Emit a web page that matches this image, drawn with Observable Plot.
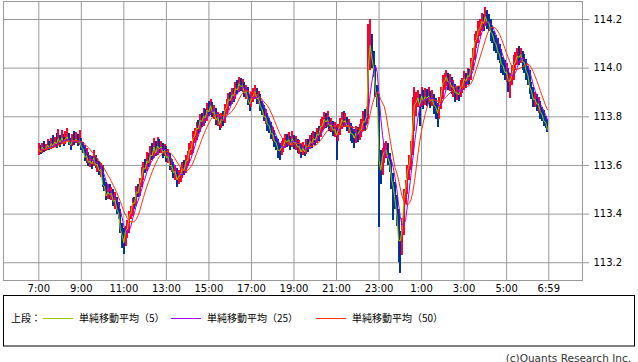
<!DOCTYPE html>
<html><head><meta charset="utf-8">
<script src="https://cdn.jsdelivr.net/npm/d3@7"></script>
<script src="https://cdn.jsdelivr.net/npm/@observablehq/plot@0.6"></script>
<style>
body{margin:0;background:#fff;width:638px;height:362px;position:relative;overflow:hidden;font-family:"DejaVu Sans",sans-serif}
#chart{position:absolute;left:0;top:0}
#legend{position:absolute;left:0;top:0}
</style></head>
<body>
<div id="chart"></div>
<svg id="legend" width="638" height="362"></svg>
<script>
// 5-minute bars from 7:00 to 6:55 (USD/JPY)
const barMinutes = 5;
const firstOpen = 113.660;
const closes = [
113.668,113.655,113.676,113.664,113.672,113.684,113.668,113.690,113.679,113.697,
113.688,113.710,113.692,113.714,113.694,113.708,113.718,113.696,113.684,113.705,
113.697,113.708,113.694,113.700,113.676,113.668,113.632,113.640,113.612,113.618,
113.606,113.630,113.601,113.604,113.578,113.583,113.522,113.515,113.474,113.490,
113.480,113.486,113.452,113.458,113.420,113.404,113.338,113.312,113.282,113.334,
113.338,113.396,113.404,113.446,113.444,113.492,113.486,113.525,113.548,113.590,
113.585,113.618,113.610,113.642,113.640,113.676,113.650,113.680,113.668,113.676,
113.652,113.662,113.632,113.636,113.598,113.600,113.570,113.575,113.540,113.556,
113.560,113.590,113.578,113.618,113.620,113.664,113.666,113.712,113.720,113.754,
113.750,113.786,113.778,113.802,113.796,113.828,113.820,113.846,113.816,113.822,
113.786,113.798,113.768,113.790,113.784,113.826,113.840,113.872,113.866,113.890,
113.886,113.916,113.910,113.936,113.924,113.928,113.898,113.904,113.870,113.852,
113.876,113.886,113.904,113.874,113.878,113.842,113.832,113.800,113.800,113.768,
113.764,113.730,113.730,113.698,113.694,113.662,113.660,113.674,113.680,113.702,
113.696,113.706,113.684,113.710,113.692,113.694,113.676,113.678,113.655,113.672,
113.656,113.680,113.676,113.698,113.692,113.710,113.704,113.728,113.724,113.760,
113.762,113.790,113.778,113.788,113.762,113.766,113.744,113.750,113.724,113.746,
113.762,113.788,113.778,113.784,113.762,113.762,113.732,113.730,113.712,113.734,
113.726,113.742,113.746,113.780,113.778,113.804,114.011,114.093,114.040,113.998,
113.906,113.874,113.620,113.580,113.638,113.656,113.664,113.630,113.610,113.546,
113.512,113.458,113.400,113.292,113.290,113.335,113.462,113.506,113.574,113.604,
113.660,113.758,113.848,113.860,113.878,113.844,113.886,113.864,113.882,113.876,
113.886,113.864,113.874,113.848,113.840,113.816,113.848,113.886,113.940,113.946,
113.964,113.942,113.944,113.922,113.922,113.898,113.898,113.890,113.922,113.926,
113.956,113.946,113.968,113.966,114.014,114.048,114.110,114.118,114.154,114.164,
114.192,114.184,114.212,114.188,114.186,114.148,114.140,114.110,114.100,114.066,
114.058,114.016,114.010,113.982,113.984,113.946,113.948,113.972,114.014,114.026,
114.050,114.044,114.056,114.026,114.024,113.988,113.972,113.922,113.906,113.872,
113.872,113.852,113.852,113.820,113.810,113.782,113.778,113.748];
const highs = [
113.690,113.682,113.692,113.698,113.688,113.705,113.700,113.712,113.725,113.716,
113.730,113.748,113.722,113.742,113.728,113.738,113.752,113.730,113.712,113.728,
113.740,113.736,113.728,113.745,113.712,113.694,113.680,113.668,113.652,113.640,
113.636,113.662,113.642,113.628,113.618,113.606,113.598,113.548,113.530,113.520,
113.522,113.510,113.500,113.488,113.470,113.446,113.418,113.360,113.340,113.350,
113.372,113.410,113.430,113.466,113.470,113.512,113.520,113.548,113.590,113.612,
113.626,113.652,113.648,113.676,113.690,113.712,113.700,113.716,113.708,113.700,
113.690,113.686,113.676,113.664,113.648,113.626,113.612,113.598,113.586,113.580,
113.590,113.612,113.620,113.640,113.656,113.690,113.700,113.740,113.752,113.778,
113.786,113.808,113.812,113.836,113.830,113.856,113.862,113.872,113.858,113.846,
113.836,113.818,113.810,113.812,113.820,113.850,113.870,113.896,113.900,113.916,
113.918,113.942,113.948,113.962,113.956,113.952,113.940,113.930,113.920,113.886,
113.900,113.918,113.930,113.916,113.904,113.890,113.862,113.846,113.828,113.812,
113.792,113.776,113.758,113.744,113.718,113.706,113.690,113.700,113.710,113.728,
113.726,113.734,113.720,113.738,113.722,113.720,113.708,113.702,113.690,113.696,
113.684,113.706,113.708,113.722,113.730,113.740,113.734,113.752,113.760,113.790,
113.796,113.816,113.812,113.820,113.798,113.792,113.780,113.778,113.764,113.770,
113.792,113.818,113.822,113.812,113.798,113.790,113.772,113.762,113.748,113.760,
113.758,113.770,113.790,113.820,113.830,113.840,114.180,114.200,114.140,114.070,
114.010,113.930,113.890,113.660,113.670,113.690,113.700,113.690,113.650,113.620,
113.566,113.530,113.478,113.420,113.330,113.380,113.500,113.540,113.600,113.640,
113.700,113.880,113.920,113.900,113.910,113.892,113.920,113.910,113.916,113.912,
113.920,113.906,113.910,113.892,113.874,113.854,113.880,113.920,113.968,113.980,
113.990,113.978,113.972,113.962,113.950,113.934,113.924,113.926,113.950,113.956,
113.986,113.980,113.998,113.996,114.040,114.080,114.140,114.150,114.190,114.200,
114.226,114.220,114.250,114.238,114.220,114.200,114.172,114.150,114.136,114.120,
114.096,114.076,114.042,114.030,114.020,114.000,113.980,114.010,114.050,114.066,
114.080,114.090,114.080,114.070,114.056,114.036,114.006,113.990,113.940,113.920,
113.898,113.890,113.880,113.862,113.840,113.826,113.800,113.790];
const lows = [
113.640,113.645,113.650,113.652,113.656,113.662,113.660,113.664,113.668,113.672,
113.670,113.680,113.674,113.686,113.676,113.688,113.700,113.680,113.662,113.676,
113.684,113.690,113.676,113.682,113.660,113.650,113.618,113.610,113.596,113.590,
113.584,113.596,113.586,113.570,113.560,113.552,113.508,113.494,113.456,113.462,
113.460,113.456,113.432,113.420,113.400,113.376,113.320,113.260,113.232,113.266,
113.300,113.320,113.376,113.390,113.420,113.430,113.470,113.474,113.510,113.540,
113.566,113.576,113.590,113.600,113.622,113.630,113.636,113.640,113.648,113.648,
113.630,113.636,113.614,113.606,113.580,113.570,113.548,113.540,113.510,113.520,
113.530,113.548,113.560,113.566,113.596,113.608,113.640,113.650,113.690,113.704,
113.726,113.736,113.756,113.760,113.772,113.780,113.800,113.806,113.796,113.790,
113.766,113.760,113.742,113.752,113.760,113.772,113.810,113.826,113.842,113.852,
113.860,113.870,113.890,113.900,113.902,113.900,113.878,113.870,113.846,113.820,
113.840,113.860,113.870,113.852,113.850,113.820,113.806,113.780,113.770,113.740,
113.730,113.706,113.700,113.672,113.660,113.630,113.620,113.640,113.652,113.668,
113.672,113.676,113.660,113.672,113.664,113.660,113.650,113.646,113.630,113.640,
113.636,113.644,113.654,113.664,113.670,113.680,113.682,113.690,113.700,113.716,
113.738,113.746,113.752,113.758,113.740,113.736,113.718,113.716,113.620,113.700,
113.724,113.748,113.754,113.756,113.740,113.730,113.700,113.690,113.670,113.690,
113.696,113.702,113.714,113.740,113.740,113.770,113.790,113.990,114.000,113.960,
113.880,113.840,113.345,113.520,113.560,113.610,113.630,113.600,113.570,113.500,
113.375,113.420,113.350,113.200,113.155,113.230,113.310,113.440,113.480,113.540,
113.580,113.640,113.740,113.800,113.840,113.760,113.840,113.830,113.846,113.842,
113.850,113.836,113.842,113.810,113.790,113.756,113.790,113.830,113.870,113.910,
113.926,113.910,113.906,113.892,113.880,113.860,113.866,113.862,113.880,113.894,
113.910,113.916,113.930,113.934,113.950,113.990,114.030,114.080,114.100,114.130,
114.150,114.150,114.170,114.160,114.150,114.110,114.100,114.070,114.060,114.030,
114.020,113.980,113.970,113.950,113.940,113.900,113.875,113.930,113.950,113.990,
114.010,114.010,114.020,113.990,113.980,113.950,113.930,113.890,113.870,113.840,
113.840,113.820,113.814,113.790,113.780,113.760,113.750,113.735];

const tickMinutes = [0,120,240,360,480,600,720,840,960,1080,1200,1320,1439];
const tickLabels = ["7:00","9:00","11:00","13:00","15:00","17:00","19:00","21:00","23:00","1:00","3:00","5:00","6:59"];
const yTicks = [113.2,113.4,113.6,113.8,114.0,114.2];

const maPeriods = [5,25,50];            // in minutes (1-minute SMA periods)
const maNames = ["単純移動平均（5）","単純移動平均（25）","単純移動平均（50）"];
const maColors = ["#99cc00","#9900ff","#ff3300"];
const upColor = "#ff0033", downColor = "#003399";

const bars = closes.map((c, i) => ({
  t: i * barMinutes,
  open: i === 0 ? firstOpen : closes[i - 1],
  close: c, high: highs[i], low: lows[i]
}));
bars.forEach(b => b.col = b.close >= b.open ? upColor : downColor);

const maSeries = maPeriods.map((p, j) => {
  const k = Math.max(1, Math.round(p / barMinutes));
  return closes.map((_, i) => ({
    t: i * barMinutes,
    v: d3.mean(closes.slice(Math.max(0, i - k + 1), i + 1))
  }));
});

const chart = Plot.plot({
  width: 638, height: 294,
  marginLeft: 3, marginRight: 56, marginTop: 1, marginBottom: 14,
  style: {fontFamily: "DejaVu Sans", fontSize: "10px", background: "#fff", color: "#000"},
  x: {type: "linear", domain: [-99.6, 1534.1]},
  y: {domain: [113.127, 114.274]},
  marks: [
    Plot.ruleY(yTicks, {stroke: "#999", strokeOpacity: 1}),
    Plot.ruleX(tickMinutes, {stroke: "#999", strokeOpacity: 1}),
    Plot.frame({stroke: "#999"}),
    Plot.ruleX(bars, {x: "t", y1: "low", y2: "high", stroke: "col", strokeWidth: 2, shapeRendering: "crispEdges"}),
    Plot.ruleX(bars, {x: "t", y1: "open", y2: "close", stroke: "col", strokeWidth: 2, shapeRendering: "crispEdges"}),
    ...maSeries.map((s, j) => Plot.line(s, {x: "t", y: "v", stroke: maColors[j], strokeWidth: 1})),
    Plot.axisY(yTicks, {anchor: "right", tickSize: 6, tickPadding: 5, stroke: "#999", fill: "#000",
      tickFormat: d => d.toFixed(1), label: null}),
    Plot.axisX(tickMinutes, {anchor: "bottom", tickSize: 0, tickPadding: 4, fill: "#000",
      tickFormat: (d, i) => tickLabels[tickMinutes.indexOf(d)], label: null})
  ]
});
document.getElementById("chart").appendChild(chart);

// legend box and caption
const svg = d3.select("#legend");
svg.append("rect").attr("x", 3.5).attr("y", 295.5).attr("width", 631).attr("height", 50.5)
  .attr("fill", "none").attr("stroke", "#000");
const cjk = '"Noto Sans CJK JP", "Noto Sans", sans-serif';
svg.append("text").attr("x", 11).attr("y", 322).attr("font-family", cjk).attr("font-size", 10)
  .attr("fill", "#000").text("上段：");
const lineX = [43, 171, 316];
maNames.forEach((n, j) => {
  svg.append("line").attr("x1", lineX[j]).attr("x2", lineX[j] + 30).attr("y1", 318.5).attr("y2", 318.5)
    .attr("stroke", maColors[j]).attr("stroke-width", 1);
  svg.append("text").attr("x", lineX[j] + 36).attr("y", 322).attr("font-family", cjk).attr("font-size", 10)
    .attr("fill", "#000").text(n);
});
svg.append("text").attr("x", 631).attr("y", 361.5).attr("text-anchor", "end")
  .attr("font-family", '"DejaVu Sans", sans-serif').attr("font-size", 10.5).attr("fill", "#333")
  .text("(c)Quants Research Inc.");
</script>
</body></html>
